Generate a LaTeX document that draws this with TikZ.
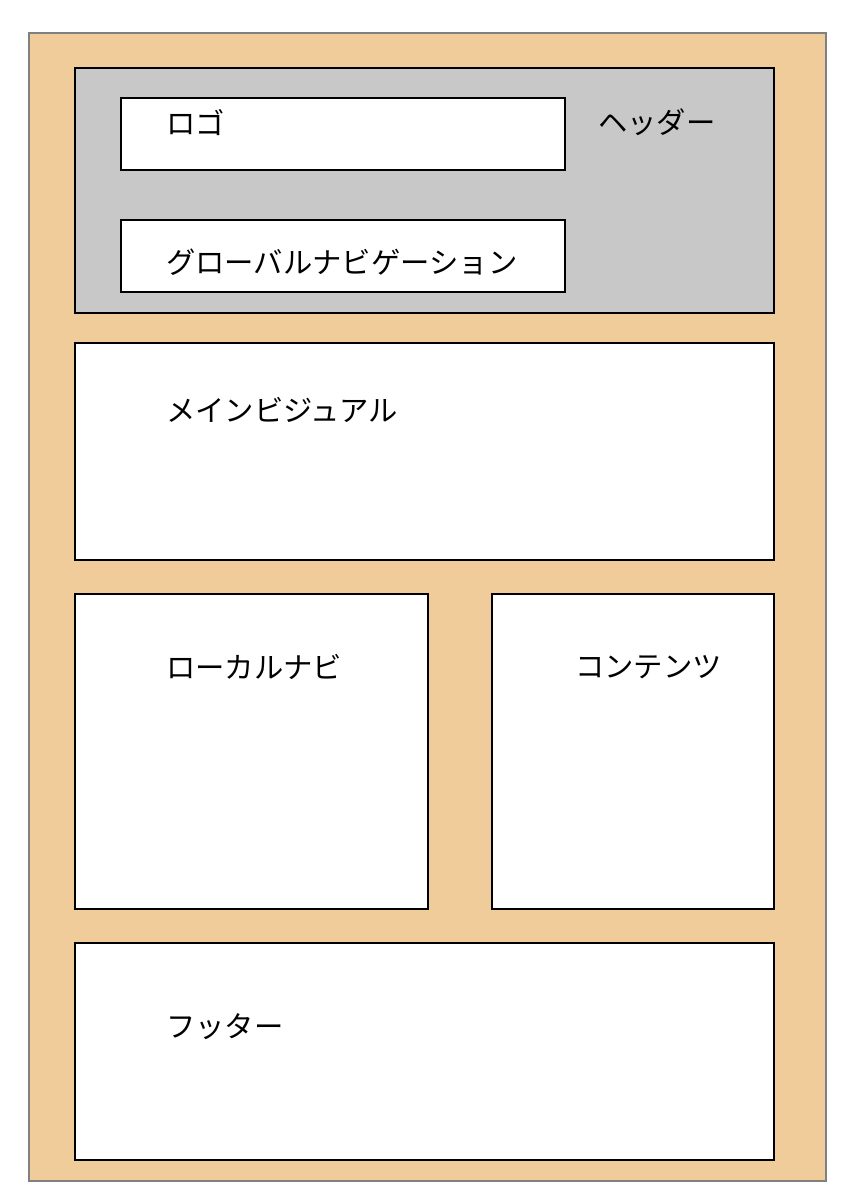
\documentclass[tikz,border=0pt]{standalone}
\usepackage{fontspec}
\newfontfamily\jp{Noto Sans CJK JP}
\definecolor{peach}{HTML}{F1CC9B}
\definecolor{hdrgray}{HTML}{C8C8C8}
\definecolor{edgegray}{HTML}{808080}
\begin{document}
\begin{tikzpicture}[x=0.75pt,y=-0.75pt,
  box/.style={draw=black,line width=1.5pt,fill=white,inner sep=0pt,anchor=north west},
  lbl/.style={anchor=west,inner sep=0pt,font=\jp\fontsize{22pt}{25pt}\selectfont}]
\useasboundingbox (0,0) rectangle (860,1200);
\fill[white] (0,0) rectangle (860,1200);
\node[draw=edgegray,line width=1.5pt,fill=peach,inner sep=0pt,anchor=north west,minimum width=797*0.75pt,minimum height=1148*0.75pt] (page) at (28,32) {};
\node[box,fill=hdrgray,minimum width=699*0.75pt,minimum height=245*0.75pt] (header) at (73.5,66.5) {};
\node[box,minimum width=444*0.75pt,minimum height=72*0.75pt] (logo) at (119.5,96.5) {};
\node[box,minimum width=444*0.75pt,minimum height=72*0.75pt] (gnav) at (119.5,218.5) {};
\node[box,minimum width=699*0.75pt,minimum height=217*0.75pt] (visual) at (73.5,341.5) {};
\node[box,minimum width=353*0.75pt,minimum height=315*0.75pt] (lnav) at (73.5,592.5) {};
\node[box,minimum width=282*0.75pt,minimum height=315*0.75pt] (content) at (490.5,592.5) {};
\node[box,minimum width=699*0.75pt,minimum height=217*0.75pt] (footer) at (73.5,941.5) {};
\node[lbl] (tlogo) at (166,123) {ロゴ};
\node[lbl] (theader) at (598,122) {ヘッダー};
\node[lbl] (tgnav) at (166,262) {グローバルナビゲーション};
\node[lbl] (tvisual) at (166,410) {メインビジュアル};
\node[lbl] (tlnav) at (166,667) {ローカルナビ};
\node[lbl] (tcontent) at (575,667) {コンテンツ};
\node[lbl] (tfooter) at (166,1027) {フッター};
\end{tikzpicture}
\end{document}
